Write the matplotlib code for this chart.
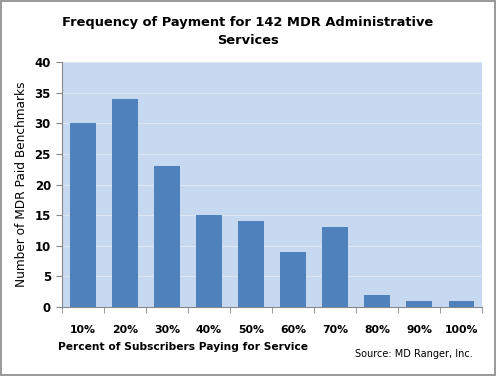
import matplotlib.pyplot as plt
import numpy as np

categories = ['10%', '20%', '30%', '40%', '50%', '60%', '70%', '80%', '90%', '100%']
benchmarks = [30, 34, 23, 15, 14, 9, 13, 2, 1, 1]
y_ticks = [0, 5, 10, 15, 20, 25, 30, 35, 40]

fig = plt.figure(figsize=(4.96, 3.76), dpi=100)
ax = fig.add_axes([0.125, 0.1835, 0.847, 0.6515])

x = np.arange(len(categories))
ax.bar(x, benchmarks, width=0.6, color='#4F81BD', zorder=3)

ax.set_facecolor('#C6D9F1')
ax.set_xlim(-0.5, len(categories) - 0.5)
ax.set_ylim(0, 40)
ax.set_yticks(y_ticks)
ax.set_yticklabels([str(v) for v in y_ticks], fontsize=8.5, fontweight='bold')
ax.yaxis.grid(True, color='#DCE6F2', linewidth=0.8, zorder=0)

# category labels centred, tick marks between categories
ax.set_xticks(x)
ax.set_xticklabels(categories, fontsize=7.8, fontweight='bold')
ax.tick_params(axis='x', length=0, pad=13)
ax.set_xticks(np.arange(-0.5, len(categories)), minor=True)
ax.tick_params(axis='x', which='minor', length=4, color='#888888')
ax.tick_params(axis='y', length=4, color='#888888', pad=4)

for s in ['top', 'right']:
    ax.spines[s].set_visible(False)
for s in ['left', 'bottom']:
    ax.spines[s].set_color('#888888')

ax.set_ylabel('Number of MDR Paid Benchmarks', fontsize=8.7, labelpad=5)

fig.text(0.5, 0.915, 'Frequency of Payment for 142 MDR Administrative\nServices',
         ha='center', va='center', fontsize=9.4, fontweight='bold', linespacing=1.5)
fig.text(0.117, 0.077, 'Percent of Subscribers Paying for Service',
         ha='left', va='center', fontsize=7.7, fontweight='bold')
fig.text(0.715, 0.058, 'Source: MD Ranger, Inc.', ha='left', va='center', fontsize=7)

fig.patches.append(plt.Rectangle((0.002, 0.002), 0.996, 0.996, transform=fig.transFigure,
                                 fill=False, edgecolor='#888888', linewidth=1.2))

fig.savefig('out.png', dpi=100)
